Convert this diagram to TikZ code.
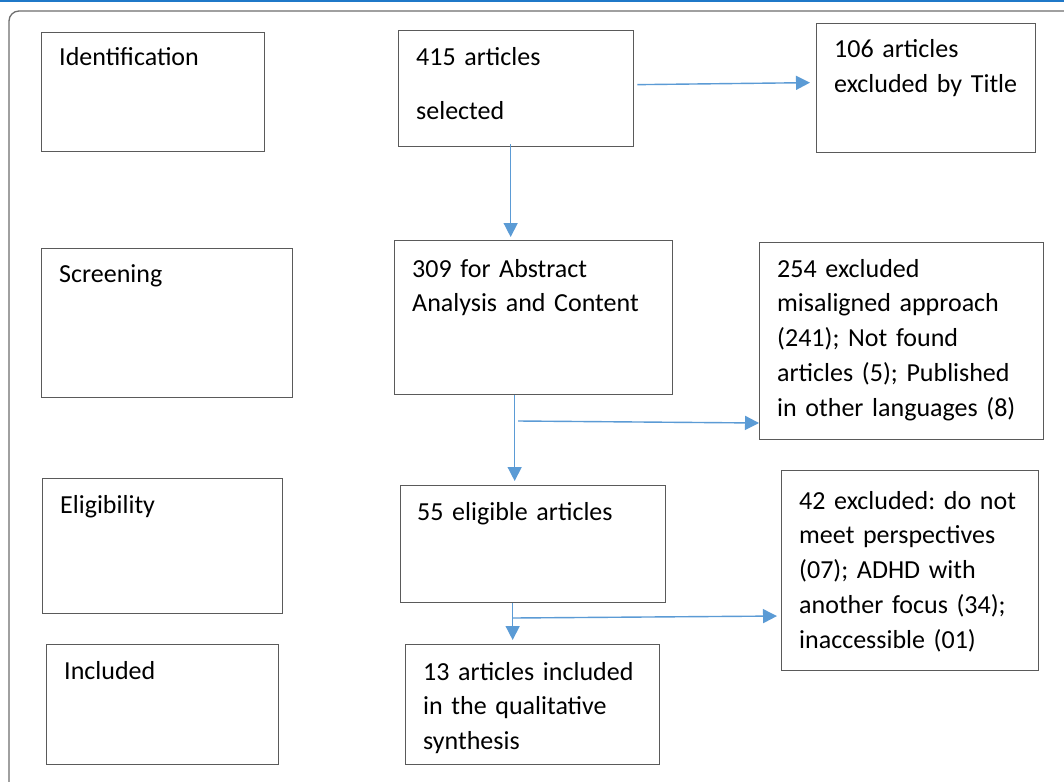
\documentclass[tikz,border=0pt]{standalone}
\usepackage{fontspec}
\setmainfont{Carlito}
\usetikzlibrary{arrows.meta}
\definecolor{boxgray}{HTML}{5A5A5A}
\definecolor{arrblue}{HTML}{5B9BD5}
\definecolor{topblue}{HTML}{1F78C8}
\definecolor{framegray}{HTML}{6E6E6E}
\frenchspacing
\tikzset{
  box/.style={draw=boxgray, line width=1.3pt, anchor=north west, inner sep=0pt, rectangle},
  txt/.style={anchor=base west, inner sep=0pt, text width=300pt, align=left,
    font=\fontsize{26}{34.8}\selectfont\frenchspacing, text=black},
  arr/.style={draw=arrblue, line width=1.4pt, -{Triangle[length=14pt,width=14pt]}},
}
\begin{document}
\begin{tikzpicture}[x=1pt,y=-1pt]
\useasboundingbox (0,0) rectangle (1064,781);
\fill[white] (0,0) rectangle (1064,781);
% top line and frame
\draw[topblue, line width=2pt] (0,1.5) -- (1064,1.5);
\draw[framegray, line width=1.3pt, rounded corners=10pt] (9,782) -- (9,11) -- (1066,11);
% boxes
\node[box, minimum width=223pt, minimum height=119pt] (ident) at (41,32) {};
\node[box, minimum width=235pt, minimum height=116pt] (n415) at (398,30) {};
\node[box, minimum width=219pt, minimum height=129pt] (n106) at (816,23) {};
\node[box, minimum width=251pt, minimum height=149pt] (screen) at (41,248) {};
\node[box, minimum width=278pt, minimum height=154pt] (n309) at (394,240) {};
\node[box, minimum width=284pt, minimum height=197pt] (n254) at (759,242) {};
\node[box, minimum width=240pt, minimum height=135pt] (elig) at (42,478) {};
\node[box, minimum width=265pt, minimum height=117pt] (n55) at (400,485) {};
\node[box, minimum width=257pt, minimum height=200pt] (n42) at (781,470) {};
\node[box, minimum width=232pt, minimum height=120pt] (incl) at (46,644) {};
\node[box, minimum width=254pt, minimum height=120pt] (n13) at (405,644) {};
% texts
\node[txt] (tident) at (59,66) {Identification};
\node[txt] (t415) at (416,66) {415 articles\\[19pt]selected};
\node[txt] (t106) at (834,58) {106 articles\\excluded by Title};
\node[txt] (tscreen) at (59,282) {Screening};
\node[txt] (t309) at (412,277) {309 for Abstract\\Analysis and Content};
\node[txt] (t254) at (777,277) {254 excluded\\misaligned approach\\(241); Not found\\articles (5); Published\\in other languages (8)};
\node[txt] (telig) at (60,513) {Eligibility};
\node[txt] (t55) at (417,520) {55 eligible articles};
\node[txt] (t42) at (799,509) {42 excluded: do not\\meet perspectives\\(07); ADHD with\\another focus (34);\\inaccessible (01)};
\node[txt] (tincl) at (64,679) {Included};
\node[txt] (t13) at (423,680) {13 articles included\\in the qualitative\\synthesis};
% connectors
\coordinate (b1) at (518,421);
\coordinate (b2) at (513,618);
\draw[arr] ([xshift=3pt,yshift=4pt]n415.east) -- ([xshift=-6pt,yshift=5.5pt]n106.west);
\draw[arr, shorten >=3pt] ([xshift=-5.5pt,yshift=3pt]n415.south) -- ([xshift=-5.5pt]n415.south |- n309.north);
\draw[arr, shorten >=4pt] ([xshift=-19pt]n309.south) -- ([xshift=-19pt]n309.south |- n55.north);
\draw[arr] (b1) -- (n254.west |- 0,423);
\draw[arr, shorten >=4pt] ([xshift=-20.5pt]n55.south) -- ([xshift=-20.5pt]n55.south |- n13.north);
\draw[arr, shorten >=4pt] (b2) -- (n42.west |- 0,616);
\end{tikzpicture}
\end{document}
